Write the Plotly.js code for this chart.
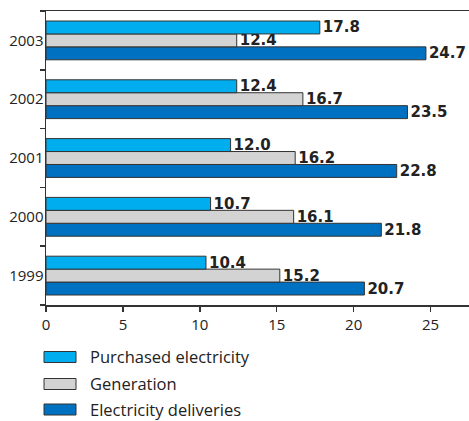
<!DOCTYPE html>
<html>
<head>
<meta charset="utf-8">
<script src="https://cdn.plot.ly/plotly-3.0.1.min.js"></script>
<style>
  html, body { margin: 0; padding: 0; background: #fff; }
  #chart { width: 469px; height: 421px; }
</style>
</head>
<body>
<div id="chart"></div>
<script>
// Electricity figures by year
const years = ['1999', '2000', '2001', '2002', '2003'];
const purchased = [10.4, 10.7, 12.0, 12.4, 17.8];
const generation = [15.2, 16.1, 16.2, 16.7, 12.4];
const deliveries = [20.7, 21.8, 22.8, 23.5, 24.7];
const seriesNames = ['Purchased electricity', 'Generation', 'Electricity deliveries'];
const xTicks = [0, 5, 10, 15, 20, 25];

const colors = ['#00AEEF', '#D3D3D3', '#0070C0'];
const W = 469, H = 421;
const M = { l: 46, r: 0, t: 11, b: 116 };
const plotW = W - M.l - M.r, plotH = H - M.t - M.b;
const px2x = (px) => (px - M.l) / plotW;
const px2y = (py) => (H - M.b - py) / plotH;

function barTrace(name, values, color) {
  return {
    type: 'bar',
    orientation: 'h',
    name: name,
    y: years,
    x: values,
    marker: { color: color, line: { color: '#333', width: 1 } },
    text: values,
    texttemplate: '%{x:.1f}',
    textposition: 'outside',
    constraintext: 'none',
    cliponaxis: false,
    textfont: { family: 'DejaVu Sans', size: 15, color: '#222', weight: 'bold' },
    hoverinfo: 'skip',
    showlegend: false
  };
}

// Plotly stacks grouped horizontal bars from the bottom up, so the
// series are added in reverse to put "Purchased" on top of each group.
const data = [
  barTrace(seriesNames[2], deliveries, colors[2]),
  barTrace(seriesNames[1], generation, colors[1]),
  barTrace(seriesNames[0], purchased, colors[0])
];

// Legend drawn below the plot as swatches with labels
const shapes = [];
const annotations = [];
const legendRows = [357, 384, 409.5];
seriesNames.forEach((name, i) => {
  const cy = legendRows[i];
  shapes.push({
    type: 'rect', xref: 'paper', yref: 'paper',
    x0: px2x(44), x1: px2x(76), y0: px2y(cy - 5.5), y1: px2y(cy + 5.5),
    fillcolor: colors[i], line: { color: '#333', width: 1 }
  });
  annotations.push({
    xref: 'paper', yref: 'paper', x: px2x(88), y: px2y(cy - 0.5),
    xanchor: 'left', yanchor: 'middle', showarrow: false,
    text: name, font: { family: 'Open Sans', size: 16.5, color: '#222' }
  });
});

const layout = {
  width: W, height: H,
  margin: M,
  paper_bgcolor: '#fff', plot_bgcolor: '#fff',
  barmode: 'group',
  bargap: 0.34,
  bargroupgap: 0,
  showlegend: false,
  font: { family: 'Open Sans', color: '#222' },
  xaxis: {
    range: [0, 27.5],
    tickvals: xTicks,
    ticktext: xTicks.map(String),
    showgrid: false, zeroline: false,
    showline: true, linecolor: '#333', linewidth: 1.5, mirror: true,
    ticks: 'outside', ticklen: 5, tickcolor: '#333', tickwidth: 1.5,
    tickfont: { family: 'Open Sans', size: 15, color: '#222' }
  },
  yaxis: {
    type: 'category',
    categoryorder: 'array', categoryarray: years,
    showgrid: false, zeroline: false,
    showline: true, linecolor: '#333', linewidth: 1.5,
    ticks: 'outside', tickson: 'boundaries', ticklen: 5, tickcolor: '#333', tickwidth: 1.5,
    ticklabelstandoff: -2,
    tickfont: { family: 'Open Sans', size: 15, color: '#222' }
  },
  shapes: shapes,
  annotations: annotations
};

Plotly.newPlot('chart', data, layout, { staticPlot: true, displayModeBar: false });
</script>
</body>
</html>
